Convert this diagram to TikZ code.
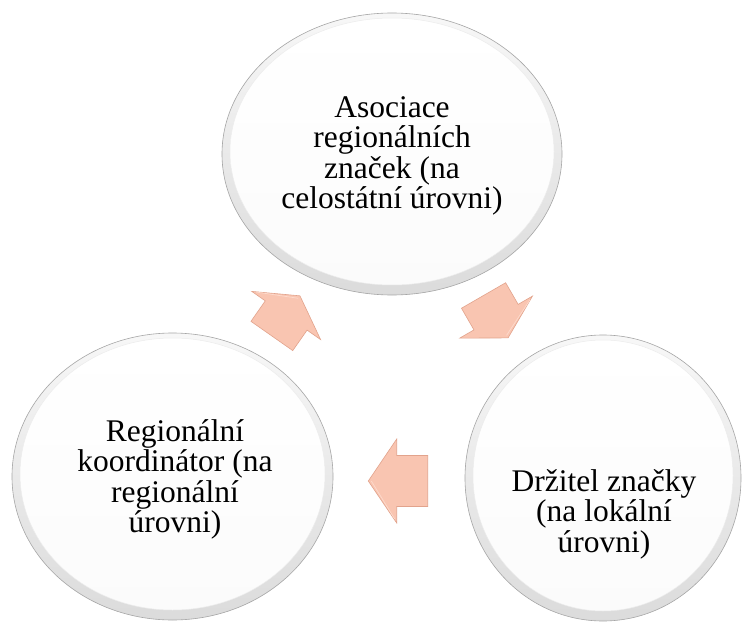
\documentclass[tikz,border=0pt]{standalone}
\usepackage{fontspec}
\setmainfont{Liberation Serif}
\usetikzlibrary{shapes.geometric}
\definecolor{arrowfill}{RGB}{249,197,177}
\definecolor{arrowedge}{RGB}{226,163,140}
\definecolor{arrowlight}{RGB}{253,218,204}
\tikzset{
  bubble/.style={ellipse, draw=gray!70, line width=0.6pt, top color=gray!6, bottom color=gray!28, inner sep=0pt},
  innerbubble/.style={ellipse, draw=gray!15, line width=0.5pt, top color=white, bottom color=gray!3, inner sep=0pt},
  bubbletext/.style={align=center, font=\fontsize{31.5}{30.5}\selectfont, inner sep=0pt},
  arrowstyle/.style={fill=arrowfill, draw=arrowedge, line width=0.6pt, line join=miter},
  pics/blockarrow/.style n args={2}{code={
    \path[arrowstyle] ({-(#1+#2)/2},-25.5) -- ({-(#1+#2)/2+#1},-25.5) -- ({-(#1+#2)/2+#1},-42)
      -- ({(#1+#2)/2},0) -- ({-(#1+#2)/2+#1},42) -- ({-(#1+#2)/2+#1},25.5) -- ({-(#1+#2)/2},25.5) -- cycle;
    \draw[arrowlight, line width=0.7pt] ({-(#1+#2)/2+#1+2},-38) -- ({(#1+#2)/2-3},0);
  }}
}
\begin{document}
\begin{tikzpicture}[x=1pt, y=-1pt]
\useasboundingbox (0,0) rectangle (744,623);
\fill[white] (0,0) rectangle (744,623);

% circles
\node[bubble, minimum width=340pt, minimum height=282pt] (top) at (392,154) {};
\node[innerbubble, minimum width=324pt, minimum height=267pt] (topin) at (392,151.5) {};

\node[bubble, minimum width=321pt, minimum height=287pt] (left) at (172.5,476.5) {};
\node[innerbubble, minimum width=305pt, minimum height=272pt] (leftin) at (172.5,474) {};

\node[bubble, minimum width=276pt, minimum height=286pt] (right) at (603,478) {};
\node[innerbubble, minimum width=260pt, minimum height=271pt] (rightin) at (603,475.5) {};

% texts
\node[bubbletext] (toptext) at (392,156) {Asociace\\regionálních\\značek (na\\celostátní úrovni)};
\node[bubbletext] (lefttext) at (175,479.5) {Regionální\\koordinátor (na\\regionální\\úrovni)};
\node[bubbletext] (righttext) at (604,514) {Držitel značky\\(na lokální\\úrovni)};

% arrows
\pic[rotate=-60] (a1) at (495.8,316.7) {blockarrow={25}{24}};
\pic[rotate=180] (a2) at (398,481) {blockarrow={31}{28.4}};
\pic[rotate=55] (a3) at (285.9,315.9) {blockarrow={25}{24}};
\end{tikzpicture}
\end{document}
